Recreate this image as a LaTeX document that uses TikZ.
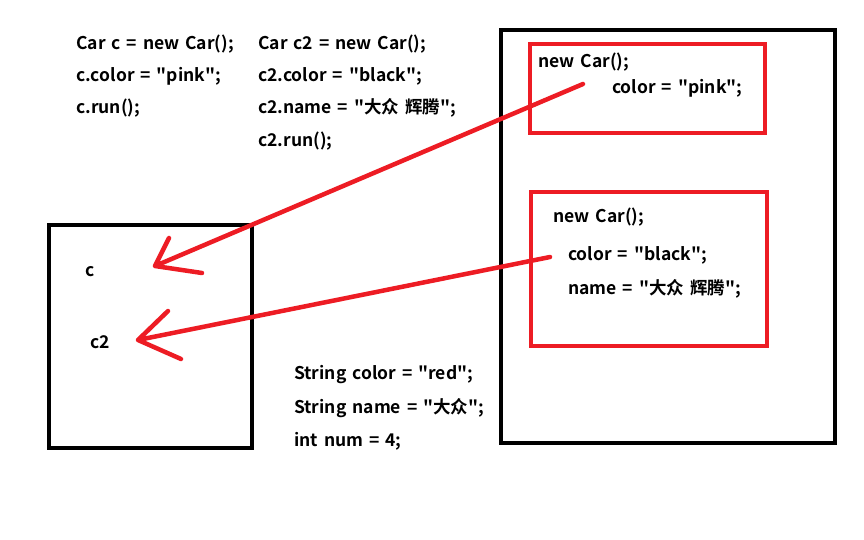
\documentclass[tikz,border=0pt]{standalone}
\usepackage{fontspec}
\newfontfamily\codefont{Noto Sans CJK SC}[BoldFont={* Bold},WordSpace=1.5]
\usetikzlibrary{positioning,calc}
\definecolor{paintred}{RGB}{237,28,36}
\tikzset{
    frame/.style={draw=black,line width=4pt},
    object frame/.style={draw=paintred,line width=4pt},
    code/.style={anchor=west,inner sep=0pt,font=\codefont\bfseries\fontsize{17.5}{17.5}\selectfont},
    ref line/.style={draw=paintred,line width=4.5pt,line cap=round,line join=round},
}

\begin{document}
\begin{tikzpicture}[x=1pt,y=-1pt]
        \useasboundingbox (0,0) rectangle (864,540);

        % stack and heap
        \draw[frame] (49,225) rectangle (252,448);
        \draw[frame] (501,30) rectangle (835,443);
        \draw[object frame] (530,44) rectangle (765,133);
        \draw[object frame] (531,192) rectangle (767,346);

        % source code
        \node[code] (l1) at (76,44) {Car c = new Car();};
        \node[code] (l2) at (76,76) {c.color = "pink";};
        \node[code] (l3) at (76,108) {c.run();};
        \node[code] (r1) at (258,44) {Car c2 = new Car();};
        \node[code] (r2) at (258,76) {c2.color = "black";};
        \node[code] (r3) at (258,108) {c2.name = "大众 辉腾";};
        \node[code] (r4) at (258,141) {c2.run();};

        % objects
        \node[code] (o1) at (538,62) {new Car();};
        \node[code] (o1c) at (612,88) {color = "pink";};
        \node[code] (o2) at (553,217) {new Car();};
        \node[code] (o2c) at (568,255) {color = "black";};
        \node[code] (o2n) at (568,289) {name = "大众 辉腾";};

        % locals
        \node[code] (c) at (85,272) {c};
        \node[code] (c2) at (90,342) {c2};
        \node[code] (s1) at (294,375) {String color = "red";};
        \node[code] (s2) at (294,408) {String name = "大众";};
        \node[code] (s3) at (294,441) {int num = 4;};

        % references
        \coordinate (from1) at (583,84);
        \coordinate (to1) at (155,266);
        \coordinate (from2) at (550,257);
        \coordinate (to2) at (138,340);
        \draw[ref line] (from1) -- (to1) (169,238) -- (to1) -- (202,273);
        \draw[ref line] (from2) -- (to2) (168,311) -- (to2) -- (181,359);
    \end{tikzpicture}
\end{document}
